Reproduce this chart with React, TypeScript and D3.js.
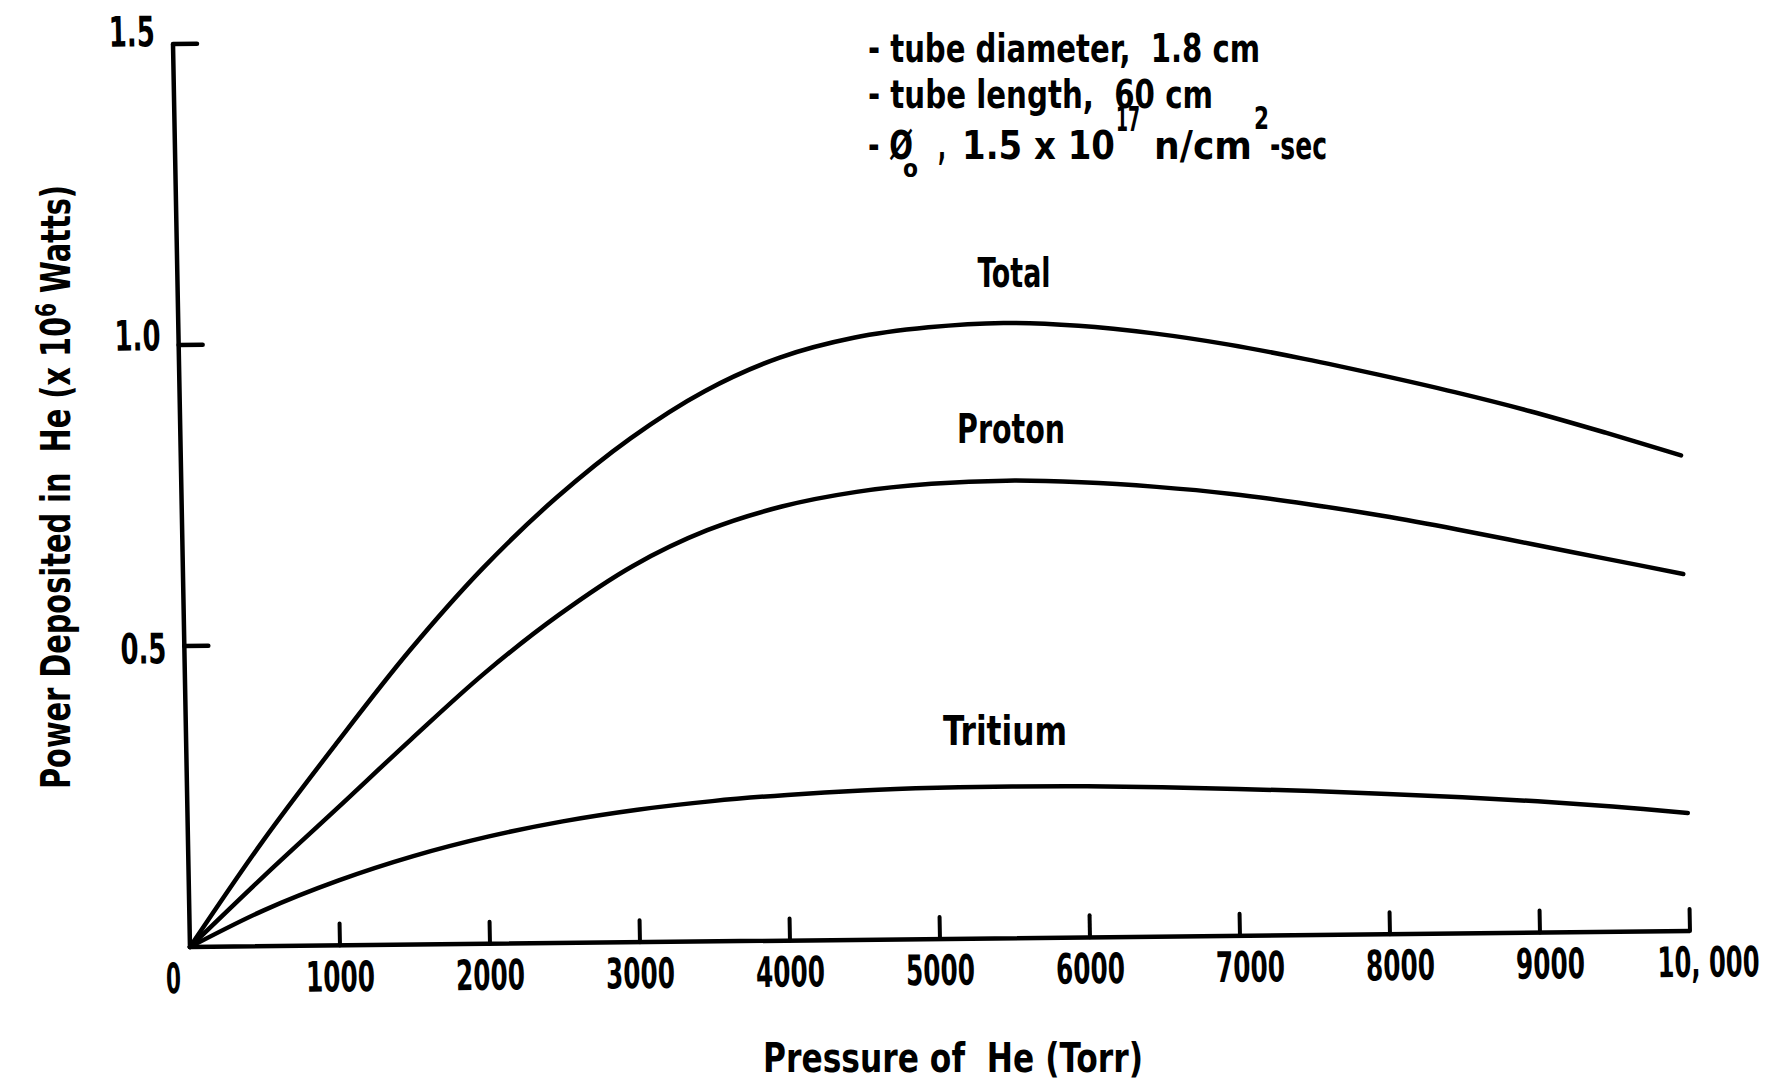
import React from "react";
import * as d3 from "d3";

// ---- data ----
const pressure = [0, 500, 1000, 1500, 2000, 2500, 3000, 3500, 4000, 4500, 5000, 5500, 6000, 6500, 7000, 7500, 8000, 8500, 9000, 9500, 10000];
const totalPower = [0, 0.175, 0.335, 0.488, 0.624, 0.74, 0.837, 0.914, 0.968, 1.0, 1.016, 1.022, 1.016, 1.002, 0.982, 0.957, 0.929, 0.899, 0.866, 0.829, 0.79];
const protonPower = [0, 0.116, 0.228, 0.341, 0.45, 0.545, 0.625, 0.683, 0.721, 0.744, 0.756, 0.76, 0.756, 0.747, 0.734, 0.716, 0.695, 0.671, 0.645, 0.619, 0.593];
const tritiumPower = [0, 0.06, 0.108, 0.147, 0.178, 0.202, 0.22, 0.233, 0.242, 0.248, 0.251, 0.252, 0.251, 0.248, 0.244, 0.239, 0.233, 0.226, 0.218, 0.208, 0.196];

const xTicks = [1000, 2000, 3000, 4000, 5000, 6000, 7000, 8000, 9000, 10000];
const xTickLabels = ["1000", "2000", "3000", "4000", "5000", "6000", "7000", "8000", "9000", "10, 000"];
const yTicks = [0.5, 1.0, 1.5];
const yTickLabels = ["0.5", "1.0", "1.5"];

const seriesNames = ["Total", "Proton", "Tritium"];

const FONT = "'DejaVu Sans Condensed', 'DejaVu Sans', sans-serif";
const INK = "#000";
const WEIGHT = 600;

const W = 1500;
const H = 903;

type TxtProps = {
  x: number;
  y: number;
  len?: number;
  size: number;
  anchor?: "start" | "middle" | "end";
  children: React.ReactNode;
  transform?: string;
};

function Txt({ x, y, len, size, anchor = "start", children, transform }: TxtProps) {
  return (
    <text
      x={x}
      y={y}
      fontSize={size}
      fontFamily={FONT}
      fontWeight={WEIGHT}
      fill={INK}
      textAnchor={anchor}
      textLength={len}
      lengthAdjust={len ? "spacingAndGlyphs" : undefined}
      transform={transform}
      style={{ whiteSpace: "pre" }}
    >
      {children}
    </text>
  );
}

export default function App() {
  const x = d3.scaleLinear().domain([0, 10000]).range([0, W]);
  const y = d3.scaleLinear().domain([0, 1.5]).range([H, 0]);

  const makeLine = (vals: number[]) =>
    d3
      .line<number>()
      .x((_, i) => x(pressure[i]))
      .y((d) => y(d))
      .curve(d3.curveCatmullRom.alpha(0.5))(vals) || "";

  const series = [totalPower, protonPower, tritiumPower];

  // slight scan skew of the original axes
  const frame = "matrix(1,-0.0107,0.0188,1,173,44)";
  const yLabelShift = (t: number) => (t === 0.5 ? 17 : t === 1.0 ? 5 : 2);

  return (
    <svg
      width={1777}
      height={1082}
      viewBox="0 0 1777 1082"
      style={{ position: "absolute", left: 0, top: 0, background: "#fff" }}
    >
      <rect x={0} y={0} width={1777} height={1082} fill="#fff" />
      <g transform={frame}>
        {/* axes */}
        <path
          d={`M${x(0)},${y(1.5)} L${x(0)},${y(0)} L${x(10000)},${y(0)}`}
          fill="none"
          stroke={INK}
          strokeWidth={4.5}
          strokeLinejoin="round"
        />
        {yTicks.map((t) => (
          <line key={"yt" + t} x1={x(0)} x2={x(0) + 24} y1={y(t)} y2={y(t)} stroke={INK} strokeWidth={4.5} strokeLinecap="round" />
        ))}
        {xTicks.map((t) => (
          <line key={"xt" + t} x1={x(t)} x2={x(t)} y1={y(0)} y2={y(0) - 22} stroke={INK} strokeWidth={4} strokeLinecap="round" />
        ))}
        {/* curves */}
        {series.map((s, i) => (
          <path key={seriesNames[i]} d={makeLine(s)} fill="none" stroke={INK} strokeWidth={4.5} strokeLinecap="round" strokeLinejoin="round" />
        ))}
        {/* y tick labels */}
        {yTicks.map((t, i) => (
          <Txt key={"yl" + t} x={x(0) - 18} y={y(t) + yLabelShift(t)} size={42} len={46} anchor="end">
            {yTickLabels[i]}
          </Txt>
        ))}
        {/* x tick labels */}
        <Txt x={x(0) - 17} y={y(0) + 46} size={42} len={15} anchor="middle">
          0
        </Txt>
        {xTicks.map((t, i) =>
          t === 10000 ? (
            <Txt key={"xl" + t} x={x(t) - 33} y={y(0) + 46} size={42} len={102} anchor="start">
              {xTickLabels[i]}
            </Txt>
          ) : (
            <Txt key={"xl" + t} x={x(t) + (t >= 7000 ? 10 : 0)} y={y(0) + 46} size={42} len={69} anchor="middle">
              {xTickLabels[i]}
            </Txt>
          )
        )}
      </g>

      {/* series labels */}
      <Txt x={1014} y={287} size={40} len={73} anchor="middle">{seriesNames[0]}</Txt>
      <Txt x={1011} y={443} size={40} len={108} anchor="middle">{seriesNames[1]}</Txt>
      <Txt x={1005} y={745} size={40} len={124} anchor="middle">{seriesNames[2]}</Txt>

      {/* annotation */}
      <Txt x={868} y={62} size={39} len={392}>{"- tube diameter,  1.8 cm"}</Txt>
      <Txt x={868} y={108} size={39} len={345}>{"- tube length,  60 cm"}</Txt>
      <Txt x={868} y={159} size={39} len={45}>{"- Ø"}</Txt>
      <Txt x={903} y={177} size={24} len={15}>o</Txt>
      <Txt x={938} y={159} size={39} len={8}>,</Txt>
      <Txt x={962} y={159} size={39} len={153}>{"1.5 x 10"}</Txt>
      <Txt x={1116} y={131} size={34} len={24}>17</Txt>
      <Txt x={1154} y={159} size={39} len={98}>n/cm</Txt>
      <Txt x={1254} y={129} size={32} len={15}>2</Txt>
      <Txt x={1270} y={159} size={39} len={57}>-sec</Txt>

      {/* axis titles */}
      <Txt x={953} y={1072} size={40} len={380} anchor="middle">{"Pressure of  He (Torr)"}</Txt>
      <text
        x={0}
        y={0}
        transform="translate(70,487) rotate(-90)"
        fontSize={40}
        fontFamily={FONT}
        fontWeight={WEIGHT}
        fill={INK}
        textAnchor="middle"
        textLength={604}
        lengthAdjust="spacingAndGlyphs"
        style={{ whiteSpace: "pre" }}
      >
        {"Power Deposited in  He (x 10"}
        <tspan fontSize={28} dy={-14}>6</tspan>
        <tspan dy={14}>{" Watts)"}</tspan>
      </text>
    </svg>
  );
}
